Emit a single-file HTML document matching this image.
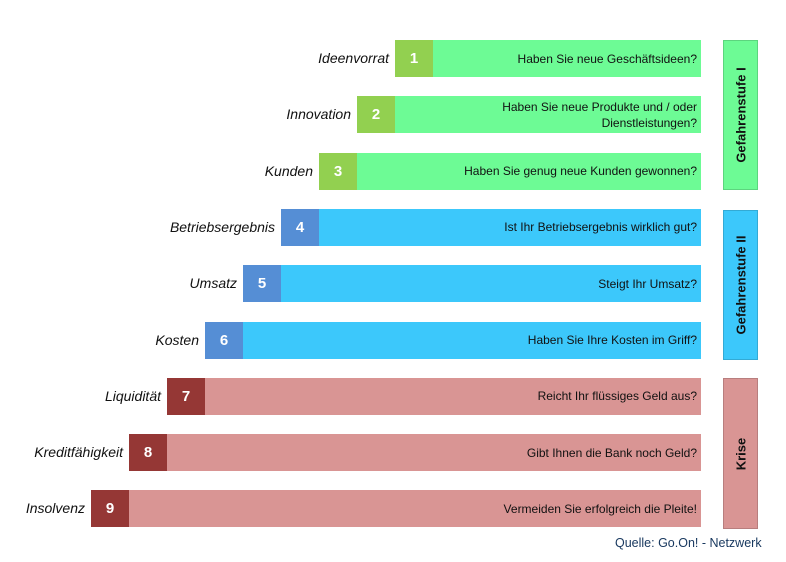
<!DOCTYPE html>
<html><head><meta charset="utf-8"><style>
body{margin:0;width:786px;height:562px;background:#fff;position:relative;overflow:hidden;font-family:"Liberation Sans",sans-serif}
.lab{position:absolute;font-style:italic;font-size:14px;color:#111;text-align:right;width:300px}
.num{position:absolute;color:#fff;font-weight:bold;font-size:15px;display:flex;align-items:center;justify-content:center}
.bar{position:absolute;font-size:12px;color:#111;display:flex;align-items:center;justify-content:flex-end;text-align:right;padding-right:4px;box-sizing:border-box;line-height:16px}
.side{position:absolute;left:723px;width:35px;box-sizing:border-box;border:1px solid rgba(0,0,0,.15)}
.side span{position:absolute;left:50%;top:50%;transform:translate(-50%,-50%) rotate(-90deg);white-space:nowrap;font-weight:bold;font-size:13px;color:#111}
</style></head><body>
<div id="root"></div>
<div class="side" style="top:40px;height:150px;background:#6dfb95"><span>Gefahrenstufe I</span></div>
<div class="side" style="top:210px;height:150px;background:#3cc8fb"><span>Gefahrenstufe II</span></div>
<div class="side" style="top:378px;height:151px;background:#d99594"><span>Krise</span></div>
<div style="position:absolute;left:615px;top:536px;font-size:12.5px;color:#17375e">Quelle: Go.On! - Netzwerk</div>
<script>
const labels=["Ideenvorrat","Innovation","Kunden","Betriebsergebnis","Umsatz","Kosten","Liquidität","Kreditfähigkeit","Insolvenz"];
const questions=["Haben Sie neue Geschäftsideen?","Haben Sie neue Produkte und / oder<br>Dienstleistungen?","Haben Sie genug neue Kunden gewonnen?","Ist Ihr Betriebsergebnis wirklich gut?","Steigt Ihr Umsatz?","Haben Sie Ihre Kosten im Griff?","Reicht Ihr flüssiges Geld aus?","Gibt Ihnen die Bank noch Geld?","Vermeiden Sie erfolgreich die Pleite!"];
const groups=[0,0,0,1,1,1,2,2,2];
const barCol=["#6dfb95","#3cc8fb","#d99594"],numCol=["#92d050","#558ed5","#953735"];
const root=document.getElementById('root');
labels.forEach((l,i)=>{
 const top=40+i*56.3,h=37,nx=395-38*i;
 const lab=document.createElement('div');lab.className='lab';
 
 
 lab.style.left=(nx-306)+'px';lab.style.top=(top+10)+'px';lab.textContent=l;root.appendChild(lab);
 const n=document.createElement('div');n.className='num';
 
 
 n.style.cssText+=`left:${nx}px;top:${top}px;width:38px;height:${h}px;background:${numCol[groups[i]]}`;n.textContent=i+1;root.appendChild(n);
 const b=document.createElement('div');b.className='bar';
 
 
 b.style.cssText+=`left:${nx+38}px;top:${top}px;width:${701-nx-38}px;height:${h}px;background:${barCol[groups[i]]}`;b.innerHTML=questions[i];root.appendChild(b);
});
</script>
</body></html>
